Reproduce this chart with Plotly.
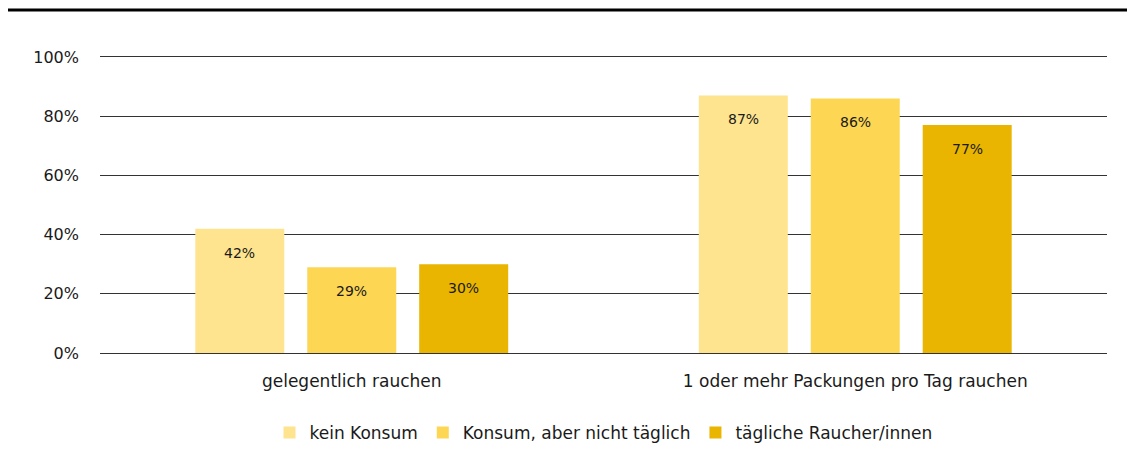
import plotly.graph_objects as go

categories = ["gelegentlich rauchen", "1 oder mehr Packungen pro Tag rauchen"]
series_names = ["kein Konsum", "Konsum, aber nicht täglich", "tägliche Raucher/innen"]
kein_konsum = [42, 87]
nicht_taeglich = [29, 86]
taeglich = [30, 77]
colors = ["#FEE48F", "#FDD654", "#E9B500"]

series_values = [kein_konsum, nicht_taeglich, taeglich]

BARGAP = 0.333
GROUPGAP = 0.205

fig = go.Figure()
for i, (name, vals, col) in enumerate(zip(series_names, series_values, colors)):
    fig.add_trace(go.Bar(
        x=categories, y=vals, name=name, offsetgroup=str(i),
        marker=dict(color=col, line=dict(width=0)),
    ))

# data labels placed inside the bar, just below its top
n = len(series_names)
slot = (1 - BARGAP) / n
for i, vals in enumerate(series_values):
    for j, v in enumerate(vals):
        fig.add_annotation(
            x=j - (1 - BARGAP) / 2 + slot * (i + 0.5), y=v, xref="x", yref="y",
            text=f"{v}%", showarrow=False, yshift=-24,
            font=dict(size=14, color="#1a1a1a", family="DejaVu Sans"),
        )

W, H = 1127, 464
fig.update_layout(
    width=W, height=H,
    margin=dict(l=92, r=28, t=46, b=119),
    paper_bgcolor="white", plot_bgcolor="white",
    barmode="group", bargap=BARGAP, bargroupgap=GROUPGAP,
    font=dict(family="DejaVu Sans", size=16, color="#1a1a1a"),
    legend=dict(orientation="h", x=0.5, xanchor="center", y=-0.267, yanchor="middle",
                font=dict(size=17), itemwidth=30, traceorder="normal"),
    shapes=[dict(type="line", xref="paper", yref="paper", x0=-0.1, x1=1.04,
                 y0=1.147, y1=1.147, line=dict(color="black", width=3))],
)
fig.update_yaxes(range=[0, 101], tickvals=[0, 20, 40, 60, 80, 100],
                 ticktext=["0%", "20%", "40%", "60%", "80%", "100%"],
                 showgrid=True, gridcolor="#333333", gridwidth=1,
                 zeroline=True, zerolinecolor="#333333", zerolinewidth=1,
                 ticklabelstandoff=20, tickfont=dict(size=16))
fig.update_xaxes(type="category", showgrid=False, ticklabelstandoff=16,
                 tickfont=dict(size=17), showline=False)

fig.write_html("out.html")
